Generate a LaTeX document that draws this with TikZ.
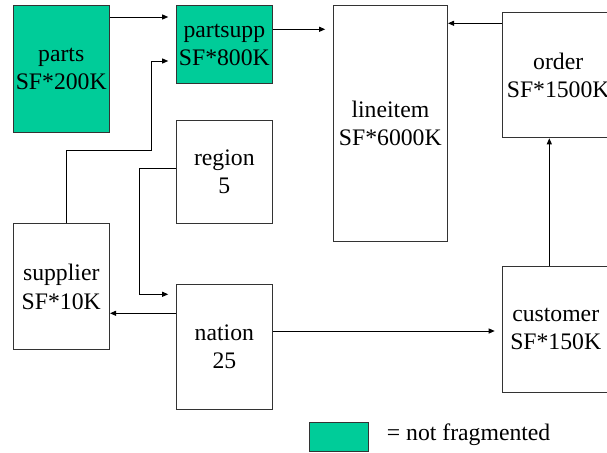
\documentclass[tikz,border=0pt]{standalone}
\usepackage{fontspec}
\setmainfont{Liberation Serif}
\usetikzlibrary{arrows.meta}
\definecolor{frag}{RGB}{0,204,153}
\definecolor{edge}{RGB}{51,51,51}
\begin{document}
\begin{tikzpicture}[x=1pt,y=-1pt,
  box/.style={draw=edge,line width=1pt,anchor=north west,inner sep=0pt,align=center,
    font=\fontsize{23.7}{28.4}\selectfont},
  green/.style={fill=frag},
  arr/.style={line width=0.9pt,-{Triangle[length=6pt,width=5pt]}},
  ln/.style={line width=0.9pt}]
\useasboundingbox (0,0) rectangle (607,452);
\clip (0,0) rectangle (607,452);
\node[box,green,minimum width=96.5pt,minimum height=126.7pt] (parts) at (12.5,5.3) {parts\\SF*200K};
\node[box,green,minimum width=96.3pt,minimum height=78pt] (partsupp) at (175.7,5.3) {partsupp\\SF*800K};
\node[box,minimum width=114.3pt,minimum height=235.4pt] (lineitem) at (332.7,5.3) {lineitem\\SF*6000K};
\node[box,minimum width=112pt,minimum height=125.3pt] (order) at (501.7,12) {order\\SF*1500K};
\node[box,minimum width=96.3pt,minimum height=102.4pt] (region) at (175.7,120.3) {region\\5};
\node[box,minimum width=96.5pt,minimum height=126pt] (supplier) at (12.5,223.3) {supplier\\SF*10K};
\node[box,minimum width=96.3pt,minimum height=125.6pt] (nation) at (175.7,283.7) {nation\\25};
\node[box,minimum width=107pt,minimum height=126pt] (customer) at (501.7,265.7) {customer\\SF*150K};
\node[box,green,minimum width=59.6pt,minimum height=28.4pt] (legend) at (308.7,422.3) {};
\node[anchor=base west,inner sep=0pt,font=\fontsize{23.7}{28.4}\selectfont] (legtext) at (386.7,440) {= not fragmented};
% routing coordinates
\coordinate (y17) at (0,17);
\coordinate (y61) at (0,61);
\coordinate (y29) at (0,29.3);
\coordinate (y23) at (0,23.3);
\coordinate (x549) at (549.3,0);
\coordinate (x67) at (66.7,0);
\coordinate (y331) at (0,331);
\coordinate (y169) at (0,168.7);
\coordinate (y294) at (0,294.3);
\coordinate (y313) at (0,313.3);
\coordinate (j1) at (151,150.3);
\coordinate (j2) at (139.3,168.7);
% connectors
\draw[arr,shorten >=7.5pt] (parts.east |- y17) -- (partsupp.west |- y17);
\draw[arr,shorten >=7.5pt] (supplier.north -| x67) |- (j1) |- (partsupp.west |- y61);
\draw[arr,shorten >=7.5pt] (partsupp.east |- y29) -- (lineitem.west |- y29);
\draw[arr] (order.west |- y23) -- (lineitem.east |- y23);
\draw[arr] (customer.north -| x549) -- (order.south -| x549);
\draw[arr,shorten >=7pt] (nation.east |- y331) -- (customer.west |- y331);
\draw[arr,shorten >=7.5pt] (region.west |- y169) -- (j2) |- (nation.west |- y294);
\draw[arr] (nation.west |- y313) -- (supplier.east |- y313);
\end{tikzpicture}
\end{document}
